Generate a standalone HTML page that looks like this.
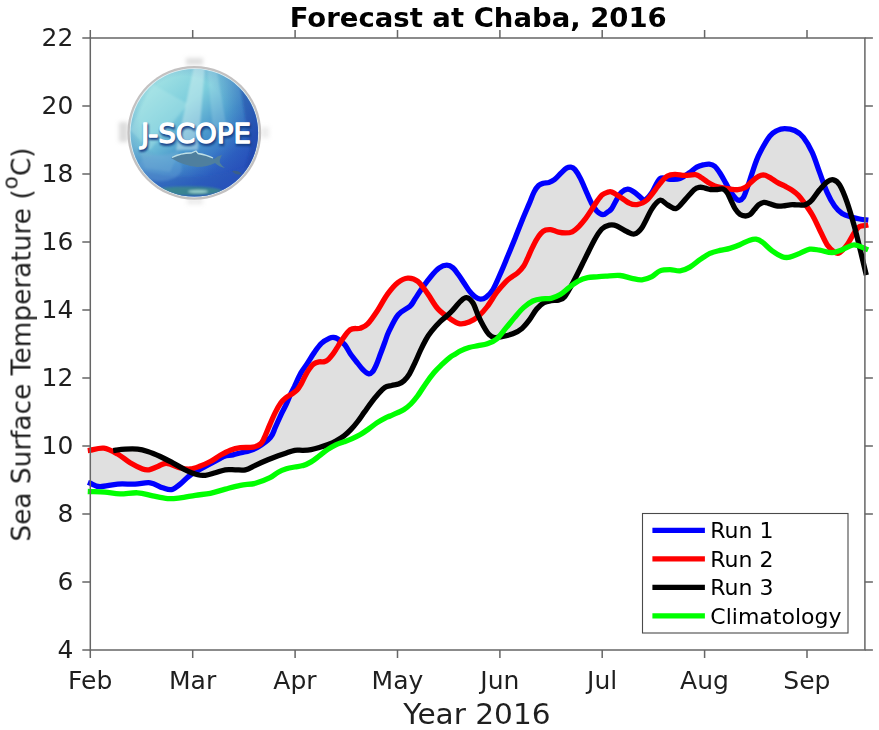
<!DOCTYPE html>
<html lang="en"><head><meta charset="utf-8"><title>Forecast at Chaba, 2016</title>
<style>html,body{margin:0;padding:0;background:#fff}svg{display:block}text{font-family:"DejaVu Sans","Liberation Sans",sans-serif;fill:#1f1f1f}</style>
</head><body>
<svg width="879" height="730" viewBox="0 0 879 730">
<defs>
<linearGradient id="lg" x1="0.18" y1="0.08" x2="0.86" y2="0.9"><stop offset="0" stop-color="#a2e2e4"/><stop offset="0.30" stop-color="#7ccddc"/><stop offset="0.55" stop-color="#4a98cc"/><stop offset="0.8" stop-color="#2f66c4"/><stop offset="1" stop-color="#2a52bc"/></linearGradient>
<radialGradient id="lg2" cx="0.42" cy="0.40" r="0.62"><stop offset="0.55" stop-color="#2448ac" stop-opacity="0"/><stop offset="1" stop-color="#2448b8" stop-opacity="0.55"/></radialGradient>
<filter id="bl" x="-20%" y="-20%" width="140%" height="140%"><feGaussianBlur stdDeviation="1.2"/></filter>
<filter id="bl3" x="-50%" y="-50%" width="200%" height="200%"><feGaussianBlur stdDeviation="2"/></filter>
<filter id="bl2" x="-20%" y="-20%" width="140%" height="140%"><feGaussianBlur stdDeviation="0.7"/></filter>
<clipPath id="lc"><circle cx="194.3" cy="132.8" r="63.8"/></clipPath>
</defs>
<rect width="879" height="730" fill="#fff"/>
<path d="M90.3 450.2L90.8 450.1L91.3 450.0L91.8 449.9L92.3 449.8L92.8 449.7L93.3 449.5L93.8 449.4L94.3 449.3L94.8 449.2L95.3 449.0L95.8 448.9L96.3 448.8L96.8 448.7L97.3 448.6L97.8 448.5L98.3 448.4L98.8 448.4L99.3 448.3L99.8 448.2L100.3 448.2L100.8 448.1L101.3 448.1L101.8 448.1L102.3 448.1L102.8 448.1L103.3 448.2L103.8 448.2L104.3 448.3L104.8 448.4L105.3 448.5L105.8 448.6L106.3 448.7L106.8 448.9L107.3 449.0L107.8 449.2L108.3 449.4L108.8 449.6L109.3 449.8L109.8 450.0L110.3 450.2L110.8 450.4L111.3 450.7L111.8 450.9L112.3 451.2L112.8 451.4L113.3 451.7L113.8 451.9L114.3 452.2L114.8 452.5L115.3 452.7L115.8 450.2L116.3 450.1L116.8 450.1L117.3 450.0L117.8 449.9L118.3 449.9L118.8 449.8L119.3 449.7L119.8 449.7L120.3 449.6L120.8 449.6L121.3 449.5L121.8 449.5L122.3 449.4L122.8 449.4L123.3 449.3L123.8 449.3L124.3 449.2L124.8 449.2L125.3 449.2L125.8 449.2L126.3 449.1L126.8 449.1L127.3 449.1L127.8 449.1L128.3 449.1L128.8 449.1L129.3 449.0L129.8 449.0L130.3 449.0L130.8 449.0L131.3 449.0L131.8 449.0L132.3 449.0L132.8 449.0L133.3 449.0L133.8 449.0L134.3 449.0L134.8 449.0L135.3 449.0L135.8 449.1L136.3 449.1L136.8 449.1L137.3 449.2L137.8 449.2L138.3 449.3L138.8 449.3L139.3 449.4L139.8 449.5L140.3 449.6L140.8 449.7L141.3 449.7L141.8 449.8L142.3 450.0L142.8 450.1L143.3 450.2L143.8 450.3L144.3 450.5L144.8 450.6L145.3 450.8L145.8 450.9L146.3 451.1L146.8 451.2L147.3 451.4L147.8 451.5L148.3 451.7L148.8 451.9L149.3 452.0L149.8 452.2L150.3 452.4L150.8 452.6L151.3 452.8L151.8 453.0L152.3 453.2L152.8 453.4L153.3 453.6L153.8 453.8L154.3 454.0L154.8 454.2L155.3 454.4L155.8 454.6L156.3 454.8L156.8 455.0L157.3 455.2L157.8 455.4L158.3 455.7L158.8 455.9L159.3 456.1L159.8 456.3L160.3 456.5L160.8 456.8L161.3 457.0L161.8 457.2L162.3 457.5L162.8 457.7L163.3 458.0L163.8 458.2L164.3 458.4L164.8 458.7L165.3 458.9L165.8 459.2L166.3 459.4L166.8 459.7L167.3 460.0L167.8 460.2L168.3 460.5L168.8 460.7L169.3 461.0L169.8 461.3L170.3 461.5L170.8 461.8L171.3 462.1L171.8 462.3L172.3 462.6L172.8 462.9L173.3 463.1L173.8 463.4L174.3 463.7L174.8 464.0L175.3 464.2L175.8 464.5L176.3 464.8L176.8 465.1L177.3 465.4L177.8 465.7L178.3 466.0L178.8 466.3L179.3 466.6L179.8 466.9L180.3 467.2L180.8 467.5L181.3 467.7L181.8 468.0L182.3 468.3L182.8 468.4L183.3 468.5L183.8 468.6L184.3 468.7L184.8 468.8L185.3 468.8L185.8 468.9L186.3 469.0L186.8 469.0L187.3 469.0L187.8 469.1L188.3 469.1L188.8 469.1L189.3 469.1L189.8 469.0L190.3 469.0L190.8 468.9L191.3 468.9L191.8 468.8L192.3 468.7L192.8 468.6L193.3 468.4L193.8 468.3L194.3 468.2L194.8 468.0L195.3 467.8L195.8 467.7L196.3 467.5L196.8 467.3L197.3 467.1L197.8 466.9L198.3 466.8L198.8 466.6L199.3 466.4L199.8 466.2L200.3 466.0L200.8 465.8L201.3 465.6L201.8 465.4L202.3 465.2L202.8 465.0L203.3 464.8L203.8 464.6L204.3 464.4L204.8 464.2L205.3 464.0L205.8 463.7L206.3 463.5L206.8 463.3L207.3 463.0L207.8 462.8L208.3 462.5L208.8 462.3L209.3 462.0L209.8 461.8L210.3 461.5L210.8 461.2L211.3 460.9L211.8 460.6L212.3 460.3L212.8 460.0L213.3 459.7L213.8 459.4L214.3 459.1L214.8 458.8L215.3 458.4L215.8 458.1L216.3 457.8L216.8 457.5L217.3 457.1L217.8 456.8L218.3 456.5L218.8 456.2L219.3 455.9L219.8 455.6L220.3 455.3L220.8 455.0L221.3 454.7L221.8 454.5L222.3 454.2L222.8 453.9L223.3 453.6L223.8 453.3L224.3 453.1L224.8 452.8L225.3 452.5L225.8 452.3L226.3 452.0L226.8 451.7L227.3 451.5L227.8 451.3L228.3 451.0L228.8 450.8L229.3 450.6L229.8 450.4L230.3 450.2L230.8 450.0L231.3 449.8L231.8 449.7L232.3 449.5L232.8 449.3L233.3 449.2L233.8 449.0L234.3 448.9L234.8 448.8L235.3 448.6L235.8 448.5L236.3 448.4L236.8 448.3L237.3 448.2L237.8 448.1L238.3 448.0L238.8 447.9L239.3 447.9L239.8 447.8L240.3 447.7L240.8 447.7L241.3 447.6L241.8 447.6L242.3 447.5L242.8 447.5L243.3 447.5L243.8 447.5L244.3 447.5L244.8 447.5L245.3 447.5L245.8 447.5L246.3 447.5L246.8 447.5L247.3 447.5L247.8 447.5L248.3 447.5L248.8 447.5L249.3 447.5L249.8 447.5L250.3 447.5L250.8 447.4L251.3 447.4L251.8 447.4L252.3 447.3L252.8 447.2L253.3 447.1L253.8 447.0L254.3 446.9L254.8 446.7L255.3 446.6L255.8 446.4L256.3 446.2L256.8 446.0L257.3 445.8L257.8 445.6L258.3 445.3L258.8 445.1L259.3 444.7L259.8 444.4L260.3 444.1L260.8 443.7L261.3 443.3L261.8 442.8L262.3 442.0L262.8 441.0L263.3 439.9L263.8 438.9L264.3 437.8L264.8 436.6L265.3 435.5L265.8 434.3L266.3 433.1L266.8 431.9L267.3 430.6L267.8 429.4L268.3 428.2L268.8 427.0L269.3 425.8L269.8 424.7L270.3 423.5L270.8 422.4L271.3 421.2L271.8 420.0L272.3 418.9L272.8 417.7L273.3 416.6L273.8 415.5L274.3 414.4L274.8 413.4L275.3 412.4L275.8 411.4L276.3 410.4L276.8 409.5L277.3 408.6L277.8 407.6L278.3 406.8L278.8 405.9L279.3 405.1L279.8 404.3L280.3 403.6L280.8 402.9L281.3 402.2L281.8 401.6L282.3 401.0L282.8 400.5L283.3 400.0L283.8 399.5L284.3 399.1L284.8 398.7L285.3 398.2L285.8 397.8L286.3 397.4L286.8 397.0L287.3 396.7L287.8 396.4L288.3 396.1L288.8 395.8L289.3 395.5L289.8 395.2L290.3 394.8L290.8 393.7L291.3 392.7L291.8 391.7L292.3 390.8L292.8 389.8L293.3 388.8L293.8 387.8L294.3 386.8L294.8 385.8L295.3 384.7L295.8 383.6L296.3 382.5L296.8 381.4L297.3 380.3L297.8 379.2L298.3 378.1L298.8 377.1L299.3 376.0L299.8 375.0L300.3 374.0L300.8 373.1L301.3 372.2L301.8 371.4L302.3 370.6L302.8 369.9L303.3 369.1L303.8 368.4L304.3 367.7L304.8 367.1L305.3 366.4L305.8 365.7L306.3 364.9L306.8 364.2L307.3 363.4L307.8 362.7L308.3 361.9L308.8 361.1L309.3 360.3L309.8 359.4L310.3 358.6L310.8 357.8L311.3 357.0L311.8 356.2L312.3 355.4L312.8 354.7L313.3 353.9L313.8 353.2L314.3 352.5L314.8 351.7L315.3 351.0L315.8 350.3L316.3 349.6L316.8 348.9L317.3 348.2L317.8 347.5L318.3 346.9L318.8 346.2L319.3 345.6L319.8 345.1L320.3 344.5L320.8 344.0L321.3 343.5L321.8 343.0L322.3 342.6L322.8 342.2L323.3 341.9L323.8 341.5L324.3 341.2L324.8 340.8L325.3 340.5L325.8 340.2L326.3 340.0L326.8 339.7L327.3 339.4L327.8 339.1L328.3 338.9L328.8 338.6L329.3 338.4L329.8 338.2L330.3 337.9L330.8 337.7L331.3 337.6L331.8 337.5L332.3 337.4L332.8 337.4L333.3 337.5L333.8 337.5L334.3 337.6L334.8 337.6L335.3 337.7L335.8 337.9L336.3 338.1L336.8 338.3L337.3 338.6L337.8 338.9L338.3 339.3L338.8 339.6L339.3 340.0L339.8 340.3L340.3 340.7L340.8 341.1L341.3 341.0L341.8 340.3L342.3 339.5L342.8 338.8L343.3 338.0L343.8 337.3L344.3 336.6L344.8 335.8L345.3 335.1L345.8 334.5L346.3 333.8L346.8 333.1L347.3 332.5L347.8 331.9L348.3 331.4L348.8 330.9L349.3 330.4L349.8 330.0L350.3 329.6L350.8 329.4L351.3 329.1L351.8 328.9L352.3 328.8L352.8 328.7L353.3 328.6L353.8 328.5L354.3 328.5L354.8 328.5L355.3 328.5L355.8 328.5L356.3 328.5L356.8 328.5L357.3 328.5L357.8 328.5L358.3 328.5L358.8 328.5L359.3 328.4L359.8 328.3L360.3 328.2L360.8 328.0L361.3 327.8L361.8 327.7L362.3 327.5L362.8 327.3L363.3 327.1L363.8 326.9L364.3 326.6L364.8 326.3L365.3 326.0L365.8 325.6L366.3 325.2L366.8 324.8L367.3 324.3L367.8 323.8L368.3 323.3L368.8 322.7L369.3 322.1L369.8 321.5L370.3 320.8L370.8 320.2L371.3 319.5L371.8 318.8L372.3 318.1L372.8 317.4L373.3 316.7L373.8 316.0L374.3 315.3L374.8 314.5L375.3 313.8L375.8 313.0L376.3 312.3L376.8 311.6L377.3 310.8L377.8 310.0L378.3 309.3L378.8 308.5L379.3 307.7L379.8 306.9L380.3 306.0L380.8 305.2L381.3 304.3L381.8 303.4L382.3 302.6L382.8 301.7L383.3 300.9L383.8 300.0L384.3 299.2L384.8 298.3L385.3 297.5L385.8 296.7L386.3 295.9L386.8 295.2L387.3 294.5L387.8 293.8L388.3 293.1L388.8 292.4L389.3 291.8L389.8 291.1L390.3 290.5L390.8 289.8L391.3 289.2L391.8 288.6L392.3 288.0L392.8 287.5L393.3 286.9L393.8 286.4L394.3 285.8L394.8 285.3L395.3 284.8L395.8 284.3L396.3 283.9L396.8 283.4L397.3 283.0L397.8 282.6L398.3 282.2L398.8 281.8L399.3 281.5L399.8 281.2L400.3 280.8L400.8 280.5L401.3 280.2L401.8 279.9L402.3 279.7L402.8 279.4L403.3 279.2L403.8 279.0L404.3 278.8L404.8 278.7L405.3 278.5L405.8 278.4L406.3 278.3L406.8 278.2L407.3 278.2L407.8 278.1L408.3 278.1L408.8 278.1L409.3 278.1L409.8 278.1L410.3 278.1L410.8 278.2L411.3 278.3L411.8 278.4L412.3 278.5L412.8 278.6L413.3 278.8L413.8 279.0L414.3 279.2L414.8 279.4L415.3 279.7L415.8 279.9L416.3 280.2L416.8 280.6L417.3 280.9L417.8 281.3L418.3 281.7L418.8 282.2L419.3 282.7L419.8 283.2L420.3 283.7L420.8 284.3L421.3 284.9L421.8 285.6L422.3 286.2L422.8 286.9L423.3 286.5L423.8 285.8L424.3 285.1L424.8 284.4L425.3 283.7L425.8 283.0L426.3 282.3L426.8 281.7L427.3 281.0L427.8 280.3L428.3 279.7L428.8 279.0L429.3 278.4L429.8 277.8L430.3 277.2L430.8 276.6L431.3 276.0L431.8 275.4L432.3 274.8L432.8 274.2L433.3 273.7L433.8 273.1L434.3 272.6L434.8 272.0L435.3 271.5L435.8 271.0L436.3 270.5L436.8 270.0L437.3 269.5L437.8 269.1L438.3 268.7L438.8 268.3L439.3 267.9L439.8 267.6L440.3 267.3L440.8 267.0L441.3 266.7L441.8 266.4L442.3 266.2L442.8 266.0L443.3 265.8L443.8 265.7L444.3 265.5L444.8 265.4L445.3 265.3L445.8 265.3L446.3 265.2L446.8 265.2L447.3 265.2L447.8 265.3L448.3 265.4L448.8 265.5L449.3 265.7L449.8 265.9L450.3 266.1L450.8 266.4L451.3 266.7L451.8 267.0L452.3 267.4L452.8 267.7L453.3 268.2L453.8 268.6L454.3 269.2L454.8 269.7L455.3 270.4L455.8 271.0L456.3 271.7L456.8 272.4L457.3 273.1L457.8 273.8L458.3 274.5L458.8 275.2L459.3 275.9L459.8 276.6L460.3 277.4L460.8 278.1L461.3 278.9L461.8 279.7L462.3 280.4L462.8 281.2L463.3 281.9L463.8 282.7L464.3 283.5L464.8 284.2L465.3 285.0L465.8 285.8L466.3 286.6L466.8 287.3L467.3 288.1L467.8 288.9L468.3 289.6L468.8 290.3L469.3 290.9L469.8 291.6L470.3 292.2L470.8 292.8L471.3 293.3L471.8 293.9L472.3 294.4L472.8 294.9L473.3 295.4L473.8 295.8L474.3 296.2L474.8 296.6L475.3 297.0L475.8 297.3L476.3 297.7L476.8 298.0L477.3 298.2L477.8 298.5L478.3 298.7L478.8 298.9L479.3 299.0L479.8 299.1L480.3 299.2L480.8 299.2L481.3 299.2L481.8 299.2L482.3 299.1L482.8 299.0L483.3 298.9L483.8 298.7L484.3 298.4L484.8 298.2L485.3 297.8L485.8 297.5L486.3 297.1L486.8 296.7L487.3 296.3L487.8 295.9L488.3 295.4L488.8 295.0L489.3 294.5L489.8 293.9L490.3 293.3L490.8 292.7L491.3 292.1L491.8 291.4L492.3 290.6L492.8 289.8L493.3 289.0L493.8 288.1L494.3 287.1L494.8 286.1L495.3 285.1L495.8 284.0L496.3 282.9L496.8 281.8L497.3 280.7L497.8 279.6L498.3 278.4L498.8 277.3L499.3 276.1L499.8 275.0L500.3 273.8L500.8 272.6L501.3 271.5L501.8 270.3L502.3 269.2L502.8 268.0L503.3 266.9L503.8 265.7L504.3 264.5L504.8 263.3L505.3 262.1L505.8 260.8L506.3 259.6L506.8 258.4L507.3 257.2L507.8 256.0L508.3 254.7L508.8 253.5L509.3 252.3L509.8 251.1L510.3 249.9L510.8 248.7L511.3 247.5L511.8 246.3L512.3 245.1L512.8 243.9L513.3 242.6L513.8 241.4L514.3 240.2L514.8 238.9L515.3 237.7L515.8 236.5L516.3 235.2L516.8 233.9L517.3 232.6L517.8 231.4L518.3 230.1L518.8 228.8L519.3 227.5L519.8 226.3L520.3 225.0L520.8 223.7L521.3 222.5L521.8 221.2L522.3 220.0L522.8 218.8L523.3 217.6L523.8 216.4L524.3 215.2L524.8 214.0L525.3 212.8L525.8 211.7L526.3 210.5L526.8 209.3L527.3 208.2L527.8 207.0L528.3 205.8L528.8 204.6L529.3 203.4L529.8 202.2L530.3 200.9L530.8 199.7L531.3 198.4L531.8 197.1L532.3 195.9L532.8 194.7L533.3 193.6L533.8 192.5L534.3 191.5L534.8 190.6L535.3 189.8L535.8 188.9L536.3 188.2L536.8 187.5L537.3 186.9L537.8 186.3L538.3 185.8L538.8 185.3L539.3 184.9L539.8 184.6L540.3 184.3L540.8 184.0L541.3 183.8L541.8 183.7L542.3 183.5L542.8 183.4L543.3 183.2L543.8 183.1L544.3 183.0L544.8 183.0L545.3 182.9L545.8 182.9L546.3 182.9L546.8 182.8L547.3 182.8L547.8 182.7L548.3 182.7L548.8 182.5L549.3 182.4L549.8 182.2L550.3 182.0L550.8 181.8L551.3 181.6L551.8 181.4L552.3 181.1L552.8 180.8L553.3 180.5L553.8 180.1L554.3 179.8L554.8 179.4L555.3 178.9L555.8 178.5L556.3 178.0L556.8 177.5L557.3 177.0L557.8 176.4L558.3 175.9L558.8 175.4L559.3 174.8L559.8 174.3L560.3 173.8L560.8 173.3L561.3 172.8L561.8 172.3L562.3 171.9L562.8 171.4L563.3 170.9L563.8 170.4L564.3 170.0L564.8 169.5L565.3 169.1L565.8 168.7L566.3 168.4L566.8 168.0L567.3 167.8L567.8 167.5L568.3 167.3L568.8 167.2L569.3 167.1L569.8 167.0L570.3 167.0L570.8 167.1L571.3 167.2L571.8 167.3L572.3 167.5L572.8 167.7L573.3 168.0L573.8 168.4L574.3 168.9L574.8 169.4L575.3 170.0L575.8 170.7L576.3 171.4L576.8 172.1L577.3 172.9L577.8 173.7L578.3 174.6L578.8 175.4L579.3 176.3L579.8 177.3L580.3 178.2L580.8 179.2L581.3 180.2L581.8 181.3L582.3 182.4L582.8 183.5L583.3 184.7L583.8 185.9L584.3 187.0L584.8 188.2L585.3 189.3L585.8 190.5L586.3 191.6L586.8 192.8L587.3 193.9L587.8 195.1L588.3 196.3L588.8 197.4L589.3 198.6L589.8 199.7L590.3 200.8L590.8 201.8L591.3 202.8L591.8 203.7L592.3 204.7L592.8 205.6L593.3 206.4L593.8 206.1L594.3 205.3L594.8 204.6L595.3 203.8L595.8 203.0L596.3 202.3L596.8 201.6L597.3 200.9L597.8 200.2L598.3 199.5L598.8 198.8L599.3 198.2L599.8 197.5L600.3 196.9L600.8 196.3L601.3 195.8L601.8 195.3L602.3 194.8L602.8 194.4L603.3 194.0L603.8 193.7L604.3 193.4L604.8 193.2L605.3 193.0L605.8 192.8L606.3 192.6L606.8 192.4L607.3 192.3L607.8 192.1L608.3 191.9L608.8 191.8L609.3 191.6L609.8 191.5L610.3 191.5L610.8 191.6L611.3 191.7L611.8 191.9L612.3 192.1L612.8 192.3L613.3 192.6L613.8 192.9L614.3 193.2L614.8 193.5L615.3 193.8L615.8 194.1L616.3 194.4L616.8 194.8L617.3 195.1L617.8 195.4L618.3 195.8L618.8 195.7L619.3 194.9L619.8 194.2L620.3 193.5L620.8 192.9L621.3 192.4L621.8 191.9L622.3 191.5L622.8 191.1L623.3 190.8L623.8 190.5L624.3 190.2L624.8 189.9L625.3 189.7L625.8 189.5L626.3 189.3L626.8 189.2L627.3 189.1L627.8 189.1L628.3 189.1L628.8 189.2L629.3 189.3L629.8 189.5L630.3 189.7L630.8 190.0L631.3 190.2L631.8 190.5L632.3 190.8L632.8 191.2L633.3 191.5L633.8 191.8L634.3 192.1L634.8 192.5L635.3 192.9L635.8 193.3L636.3 193.7L636.8 194.1L637.3 194.5L637.8 195.0L638.3 195.4L638.8 195.9L639.3 196.3L639.8 196.7L640.3 197.1L640.8 197.5L641.3 198.0L641.8 198.6L642.3 199.1L642.8 199.6L643.3 200.0L643.8 200.2L644.3 200.2L644.8 200.1L645.3 199.9L645.8 199.6L646.3 199.2L646.8 198.8L647.3 198.3L647.8 197.8L648.3 197.2L648.8 196.7L649.3 196.1L649.8 195.4L650.3 194.8L650.8 194.1L651.3 193.4L651.8 192.7L652.3 192.0L652.8 191.1L653.3 190.2L653.8 189.2L654.3 188.2L654.8 187.1L655.3 186.1L655.8 185.0L656.3 184.0L656.8 183.0L657.3 182.1L657.8 181.2L658.3 180.5L658.8 179.8L659.3 179.2L659.8 178.8L660.3 178.4L660.8 178.1L661.3 178.0L661.8 177.8L662.3 177.8L662.8 177.8L663.3 177.8L663.8 177.9L664.3 178.0L664.8 178.1L665.3 177.8L665.8 177.3L666.3 176.9L666.8 176.6L667.3 176.2L667.8 175.9L668.3 175.7L668.8 175.4L669.3 175.2L669.8 175.0L670.3 174.9L670.8 174.8L671.3 174.7L671.8 174.6L672.3 174.6L672.8 174.5L673.3 174.5L673.8 174.5L674.3 174.4L674.8 174.4L675.3 174.4L675.8 174.4L676.3 174.4L676.8 174.5L677.3 174.5L677.8 174.6L678.3 174.6L678.8 174.7L679.3 174.8L679.8 174.8L680.3 174.9L680.8 175.0L681.3 175.1L681.8 175.1L682.3 175.2L682.8 175.3L683.3 175.3L683.8 175.3L684.3 175.4L684.8 175.4L685.3 175.4L685.8 175.3L686.3 175.0L686.8 174.6L687.3 174.3L687.8 173.9L688.3 173.5L688.8 173.2L689.3 172.8L689.8 172.5L690.3 172.1L690.8 171.8L691.3 171.4L691.8 171.0L692.3 170.6L692.8 170.1L693.3 169.7L693.8 169.3L694.3 168.9L694.8 168.5L695.3 168.1L695.8 167.7L696.3 167.4L696.8 167.1L697.3 166.8L697.8 166.6L698.3 166.4L698.8 166.2L699.3 166.0L699.8 165.8L700.3 165.7L700.8 165.5L701.3 165.4L701.8 165.3L702.3 165.1L702.8 165.0L703.3 164.9L703.8 164.8L704.3 164.7L704.8 164.5L705.3 164.4L705.8 164.3L706.3 164.2L706.8 164.1L707.3 164.1L707.8 164.0L708.3 164.0L708.8 164.1L709.3 164.1L709.8 164.2L710.3 164.3L710.8 164.4L711.3 164.5L711.8 164.6L712.3 164.8L712.8 165.0L713.3 165.2L713.8 165.5L714.3 165.9L714.8 166.3L715.3 166.8L715.8 167.3L716.3 167.9L716.8 168.5L717.3 169.1L717.8 169.8L718.3 170.6L718.8 171.3L719.3 172.1L719.8 172.8L720.3 173.6L720.8 174.4L721.3 175.2L721.8 176.1L722.3 177.0L722.8 177.9L723.3 178.8L723.8 179.7L724.3 180.6L724.8 181.5L725.3 182.4L725.8 183.3L726.3 184.1L726.8 185.0L727.3 185.9L727.8 186.8L728.3 187.7L728.8 188.6L729.3 189.0L729.8 189.0L730.3 189.1L730.8 189.1L731.3 189.2L731.8 189.3L732.3 189.4L732.8 189.4L733.3 189.5L733.8 189.5L734.3 189.6L734.8 189.6L735.3 189.7L735.8 189.7L736.3 189.7L736.8 189.7L737.3 189.7L737.8 189.7L738.3 189.7L738.8 189.6L739.3 189.5L739.8 189.4L740.3 189.3L740.8 189.2L741.3 189.1L741.8 189.0L742.3 188.8L742.8 188.6L743.3 188.4L743.8 188.2L744.3 188.0L744.8 187.7L745.3 187.4L745.8 187.1L746.3 186.7L746.8 186.3L747.3 185.8L747.8 185.3L748.3 184.7L748.8 183.2L749.3 181.7L749.8 180.2L750.3 178.7L750.8 177.1L751.3 175.6L751.8 174.1L752.3 172.6L752.8 171.1L753.3 169.5L753.8 168.0L754.3 166.5L754.8 165.1L755.3 163.7L755.8 162.3L756.3 161.0L756.8 159.6L757.3 158.3L757.8 157.0L758.3 155.9L758.8 154.8L759.3 153.8L759.8 152.9L760.3 152.0L760.8 151.0L761.3 150.1L761.8 149.2L762.3 148.3L762.8 147.4L763.3 146.5L763.8 145.7L764.3 144.8L764.8 143.9L765.3 143.1L765.8 142.3L766.3 141.4L766.8 140.6L767.3 139.8L767.8 139.1L768.3 138.3L768.8 137.6L769.3 136.9L769.8 136.2L770.3 135.6L770.8 135.0L771.3 134.5L771.8 133.9L772.3 133.5L772.8 133.1L773.3 132.7L773.8 132.3L774.3 132.0L774.8 131.7L775.3 131.5L775.8 131.2L776.3 130.9L776.8 130.7L777.3 130.5L777.8 130.2L778.3 130.0L778.8 129.8L779.3 129.6L779.8 129.4L780.3 129.3L780.8 129.1L781.3 129.0L781.8 128.9L782.3 128.9L782.8 128.8L783.3 128.7L783.8 128.7L784.3 128.7L784.8 128.7L785.3 128.7L785.8 128.7L786.3 128.7L786.8 128.8L787.3 128.8L787.8 128.8L788.3 128.9L788.8 128.9L789.3 129.0L789.8 129.1L790.3 129.2L790.8 129.3L791.3 129.4L791.8 129.5L792.3 129.6L792.8 129.8L793.3 129.9L793.8 130.1L794.3 130.3L794.8 130.5L795.3 130.8L795.8 131.0L796.3 131.3L796.8 131.6L797.3 131.9L797.8 132.2L798.3 132.5L798.8 132.9L799.3 133.3L799.8 133.7L800.3 134.1L800.8 134.6L801.3 135.0L801.8 135.6L802.3 136.1L802.8 136.7L803.3 137.3L803.8 137.9L804.3 138.6L804.8 139.3L805.3 140.0L805.8 140.7L806.3 141.5L806.8 142.3L807.3 143.1L807.8 143.9L808.3 144.8L808.8 145.7L809.3 146.6L809.8 147.5L810.3 148.5L810.8 149.5L811.3 150.5L811.8 151.6L812.3 152.6L812.8 153.7L813.3 154.9L813.8 156.2L814.3 157.5L814.8 158.8L815.3 160.2L815.8 161.6L816.3 163.0L816.8 164.5L817.3 165.9L817.8 167.4L818.3 168.8L818.8 170.2L819.3 171.6L819.8 172.9L820.3 174.3L820.8 175.7L821.3 177.1L821.8 178.5L822.3 179.8L822.8 181.2L823.3 182.6L823.8 184.0L824.3 184.4L824.8 183.8L825.3 183.3L825.8 182.9L826.3 182.4L826.8 182.0L827.3 181.7L827.8 181.3L828.3 181.0L828.8 180.7L829.3 180.4L829.8 180.2L830.3 180.0L830.8 179.8L831.3 179.7L831.8 179.7L832.3 179.7L832.8 179.7L833.3 179.8L833.8 179.9L834.3 180.0L834.8 180.2L835.3 180.4L835.8 180.7L836.3 181.0L836.8 181.4L837.3 181.8L837.8 182.3L838.3 182.9L838.8 183.6L839.3 184.3L839.8 185.1L840.3 186.0L840.8 187.0L841.3 188.0L841.8 189.0L842.3 190.1L842.8 191.2L843.3 192.4L843.8 193.6L844.3 194.8L844.8 196.1L845.3 197.4L845.8 198.7L846.3 200.1L846.8 201.5L847.3 202.9L847.8 204.3L848.3 205.8L848.8 207.4L849.3 208.9L849.8 210.5L850.3 212.2L850.8 213.8L851.3 215.5L851.8 217.2L852.3 217.4L852.8 217.5L853.3 217.7L853.8 217.8L854.3 217.9L854.8 218.0L855.3 218.2L855.8 218.3L856.3 218.4L856.8 218.5L857.3 218.6L857.8 218.7L858.3 218.8L858.8 218.9L859.3 218.9L859.8 219.0L860.3 219.1L860.8 219.2L861.3 219.3L861.8 219.3L862.3 219.4L862.8 219.5L863.3 219.5L863.8 219.6L864.3 219.6L864.8 219.7L865.3 219.8L865.3 270.9L864.8 268.8L864.3 266.7L863.8 264.6L863.3 262.6L862.8 260.5L862.3 258.4L861.8 256.3L861.3 254.3L860.8 252.2L860.3 250.1L859.8 248.1L859.3 246.0L858.8 243.9L858.3 241.8L857.8 239.7L857.3 237.7L856.8 235.7L856.3 233.7L855.8 231.7L855.3 231.2L854.8 231.9L854.3 232.7L853.8 233.4L853.3 234.3L852.8 235.1L852.3 236.0L851.8 236.9L851.3 237.8L850.8 238.7L850.3 239.6L849.8 240.4L849.3 241.3L848.8 242.1L848.3 242.9L847.8 243.7L847.3 244.4L846.8 245.1L846.3 245.8L845.8 246.4L845.3 247.0L844.8 247.7L844.3 248.3L843.8 248.8L843.3 249.4L842.8 249.9L842.3 250.4L841.8 250.9L841.3 251.4L840.8 251.8L840.3 252.2L839.8 252.6L839.3 252.9L838.8 253.1L838.3 253.3L837.8 253.4L837.3 253.4L836.8 253.4L836.3 253.2L835.8 252.9L835.3 252.6L834.8 252.3L834.3 252.0L833.8 251.7L833.3 251.3L832.8 250.9L832.3 250.5L831.8 250.1L831.3 249.6L830.8 249.2L830.3 248.7L829.8 248.1L829.3 247.6L828.8 247.0L828.3 246.4L827.8 245.7L827.3 245.0L826.8 244.2L826.3 243.4L825.8 242.5L825.3 241.6L824.8 240.6L824.3 239.6L823.8 238.6L823.3 237.6L822.8 236.5L822.3 235.4L821.8 234.3L821.3 233.3L820.8 232.2L820.3 231.1L819.8 230.1L819.3 229.1L818.8 228.1L818.3 227.0L817.8 226.0L817.3 224.9L816.8 223.9L816.3 222.8L815.8 221.8L815.3 220.7L814.8 219.7L814.3 218.7L813.8 217.7L813.3 216.8L812.8 215.9L812.3 215.0L811.8 214.1L811.3 213.3L810.8 212.5L810.3 211.7L809.8 210.9L809.3 210.1L808.8 209.4L808.3 208.6L807.8 207.9L807.3 207.2L806.8 206.5L806.3 205.7L805.8 205.0L805.3 204.7L804.8 204.9L804.3 205.0L803.8 205.1L803.3 205.1L802.8 205.2L802.3 205.2L801.8 205.1L801.3 205.1L800.8 205.1L800.3 205.0L799.8 205.0L799.3 205.0L798.8 204.9L798.3 204.9L797.8 204.8L797.3 204.8L796.8 204.8L796.3 204.8L795.8 204.8L795.3 204.8L794.8 204.7L794.3 204.7L793.8 204.7L793.3 204.7L792.8 204.7L792.3 204.7L791.8 204.7L791.3 204.7L790.8 204.7L790.3 204.8L789.8 204.8L789.3 204.9L788.8 204.9L788.3 205.0L787.8 205.1L787.3 205.2L786.8 205.3L786.3 205.4L785.8 205.5L785.3 205.6L784.8 205.7L784.3 205.8L783.8 205.8L783.3 205.9L782.8 205.9L782.3 206.0L781.8 206.0L781.3 206.0L780.8 206.1L780.3 206.1L779.8 206.1L779.3 206.1L778.8 206.1L778.3 206.1L777.8 206.1L777.3 206.0L776.8 206.0L776.3 205.9L775.8 205.8L775.3 205.7L774.8 205.6L774.3 205.4L773.8 205.2L773.3 205.1L772.8 204.9L772.3 204.7L771.8 204.5L771.3 204.3L770.8 204.1L770.3 204.0L769.8 203.8L769.3 203.6L768.8 203.5L768.3 203.3L767.8 203.1L767.3 202.9L766.8 202.8L766.3 202.6L765.8 202.5L765.3 202.4L764.8 202.3L764.3 202.3L763.8 202.3L763.3 202.4L762.8 202.5L762.3 202.7L761.8 202.9L761.3 203.1L760.8 203.3L760.3 203.6L759.8 203.9L759.3 204.2L758.8 204.6L758.3 205.0L757.8 205.4L757.3 205.9L756.8 206.5L756.3 207.1L755.8 207.8L755.3 208.5L754.8 209.1L754.3 209.7L753.8 210.3L753.3 211.0L752.8 211.7L752.3 212.3L751.8 212.9L751.3 213.5L750.8 214.0L750.3 214.4L749.8 214.7L749.3 215.0L748.8 215.3L748.3 215.5L747.8 215.7L747.3 215.8L746.8 215.9L746.3 216.0L745.8 216.0L745.3 216.0L744.8 216.0L744.3 215.9L743.8 215.9L743.3 215.8L742.8 215.7L742.3 215.5L741.8 215.3L741.3 215.1L740.8 214.9L740.3 214.6L739.8 214.3L739.3 213.9L738.8 213.4L738.3 212.9L737.8 212.4L737.3 211.8L736.8 211.2L736.3 210.5L735.8 209.8L735.3 209.1L734.8 208.3L734.3 207.4L733.8 206.4L733.3 205.4L732.8 204.3L732.3 203.2L731.8 202.2L731.3 201.1L730.8 200.1L730.3 199.0L729.8 197.9L729.3 196.8L728.8 195.8L728.3 194.8L727.8 193.8L727.3 193.0L726.8 192.2L726.3 191.6L725.8 191.0L725.3 190.4L724.8 190.0L724.3 189.7L723.8 189.4L723.3 189.1L722.8 189.0L722.3 188.9L721.8 188.9L721.3 188.9L720.8 188.9L720.3 189.0L719.8 189.1L719.3 189.2L718.8 189.3L718.3 189.4L717.8 189.5L717.3 189.5L716.8 189.5L716.3 189.5L715.8 189.6L715.3 189.6L714.8 189.6L714.3 189.6L713.8 189.6L713.3 189.6L712.8 189.6L712.3 189.6L711.8 189.6L711.3 189.6L710.8 189.5L710.3 189.5L709.8 189.4L709.3 189.3L708.8 189.2L708.3 189.0L707.8 188.9L707.3 188.7L706.8 188.6L706.3 188.4L705.8 188.3L705.3 188.1L704.8 188.0L704.3 187.9L703.8 187.8L703.3 187.7L702.8 187.6L702.3 187.5L701.8 187.4L701.3 187.3L700.8 187.3L700.3 187.2L699.8 187.3L699.3 187.3L698.8 187.4L698.3 187.5L697.8 187.6L697.3 187.7L696.8 187.9L696.3 188.2L695.8 188.4L695.3 188.8L694.8 189.1L694.3 189.5L693.8 190.0L693.3 190.4L692.8 190.9L692.3 191.5L691.8 192.0L691.3 192.5L690.8 193.1L690.3 193.7L689.8 194.2L689.3 194.8L688.8 195.4L688.3 196.0L687.8 196.6L687.3 197.1L686.8 197.7L686.3 198.3L685.8 198.8L685.3 199.4L684.8 199.9L684.3 200.5L683.8 201.0L683.3 201.6L682.8 202.2L682.3 202.8L681.8 203.5L681.3 204.1L680.8 204.7L680.3 205.3L679.8 205.8L679.3 206.3L678.8 206.8L678.3 207.3L677.8 207.7L677.3 208.0L676.8 208.3L676.3 208.5L675.8 208.6L675.3 208.6L674.8 208.6L674.3 208.5L673.8 208.4L673.3 208.2L672.8 208.0L672.3 207.8L671.8 207.5L671.3 207.2L670.8 206.9L670.3 206.5L669.8 206.2L669.3 205.9L668.8 205.6L668.3 205.2L667.8 205.0L667.3 204.7L666.8 204.4L666.3 204.0L665.8 203.6L665.3 203.2L664.8 202.8L664.3 202.3L663.8 201.9L663.3 201.4L662.8 201.1L662.3 200.7L661.8 200.5L661.3 200.3L660.8 200.2L660.3 200.3L659.8 200.4L659.3 200.6L658.8 200.8L658.3 201.1L657.8 201.5L657.3 201.9L656.8 202.4L656.3 202.9L655.8 203.5L655.3 204.1L654.8 204.7L654.3 205.4L653.8 206.1L653.3 206.8L652.8 207.6L652.3 208.3L651.8 209.1L651.3 209.9L650.8 210.7L650.3 211.6L649.8 212.6L649.3 213.5L648.8 214.5L648.3 215.5L647.8 216.5L647.3 217.6L646.8 218.6L646.3 219.6L645.8 220.6L645.3 221.6L644.8 222.6L644.3 223.6L643.8 224.5L643.3 225.4L642.8 226.3L642.3 227.1L641.8 227.8L641.3 228.5L640.8 229.2L640.3 229.8L639.8 230.4L639.3 230.9L638.8 231.4L638.3 231.9L637.8 232.3L637.3 232.7L636.8 233.0L636.3 233.2L635.8 233.5L635.3 233.7L634.8 233.9L634.3 234.0L633.8 234.1L633.3 234.1L632.8 234.1L632.3 234.0L631.8 233.9L631.3 233.7L630.8 233.5L630.3 233.3L629.8 233.1L629.3 232.8L628.8 232.5L628.3 232.3L627.8 232.0L627.3 231.7L626.8 231.5L626.3 231.3L625.8 231.0L625.3 230.7L624.8 230.4L624.3 230.1L623.8 229.8L623.3 229.5L622.8 229.2L622.3 228.9L621.8 228.6L621.3 228.3L620.8 228.0L620.3 227.7L619.8 227.4L619.3 227.1L618.8 226.8L618.3 226.6L617.8 226.3L617.3 226.1L616.8 225.9L616.3 225.7L615.8 225.6L615.3 225.4L614.8 225.3L614.3 225.2L613.8 225.1L613.3 225.0L612.8 225.0L612.3 224.9L611.8 224.9L611.3 224.9L610.8 225.0L610.3 225.0L609.8 225.1L609.3 225.2L608.8 225.3L608.3 225.4L607.8 225.6L607.3 225.7L606.8 225.9L606.3 226.0L605.8 226.2L605.3 226.5L604.8 226.7L604.3 227.0L603.8 227.3L603.3 227.7L602.8 228.1L602.3 228.5L601.8 229.0L601.3 229.5L600.8 230.1L600.3 230.7L599.8 231.3L599.3 232.0L598.8 232.7L598.3 233.5L597.8 234.2L597.3 235.0L596.8 235.9L596.3 236.7L595.8 237.6L595.3 238.4L594.8 239.3L594.3 240.2L593.8 241.1L593.3 242.0L592.8 243.0L592.3 243.9L591.8 244.9L591.3 245.9L590.8 246.9L590.3 247.9L589.8 248.9L589.3 249.9L588.8 250.9L588.3 252.0L587.8 253.0L587.3 254.0L586.8 255.0L586.3 256.1L585.8 257.1L585.3 258.1L584.8 259.1L584.3 260.1L583.8 261.1L583.3 262.1L582.8 263.1L582.3 264.1L581.8 265.1L581.3 266.2L580.8 267.2L580.3 268.2L579.8 269.2L579.3 270.3L578.8 271.3L578.3 272.3L577.8 273.3L577.3 274.3L576.8 275.3L576.3 276.3L575.8 277.2L575.3 278.2L574.8 279.2L574.3 280.1L573.8 281.0L573.3 282.0L572.8 282.9L572.3 283.9L571.8 284.8L571.3 285.7L570.8 286.7L570.3 287.6L569.8 288.5L569.3 289.4L568.8 290.3L568.3 291.1L567.8 292.0L567.3 292.8L566.8 293.6L566.3 294.4L565.8 295.1L565.3 295.8L564.8 296.5L564.3 297.1L563.8 297.6L563.3 298.1L562.8 298.5L562.3 298.8L561.8 299.1L561.3 299.3L560.8 299.5L560.3 299.6L559.8 299.7L559.3 299.9L558.8 300.0L558.3 300.1L557.8 300.3L557.3 300.3L556.8 300.4L556.3 300.4L555.8 300.5L555.3 300.5L554.8 300.5L554.3 300.5L553.8 300.5L553.3 300.5L552.8 300.5L552.3 300.6L551.8 300.6L551.3 300.7L550.8 300.8L550.3 300.8L549.8 300.9L549.3 301.0L548.8 301.1L548.3 301.2L547.8 301.3L547.3 301.4L546.8 301.6L546.3 301.7L545.8 301.9L545.3 302.1L544.8 302.3L544.3 302.5L543.8 302.8L543.3 303.1L542.8 303.4L542.3 303.8L541.8 304.1L541.3 304.5L540.8 304.9L540.3 305.3L539.8 305.8L539.3 306.2L538.8 306.7L538.3 307.2L537.8 307.7L537.3 308.3L536.8 308.9L536.3 309.5L535.8 310.1L535.3 310.8L534.8 311.5L534.3 312.3L533.8 313.0L533.3 313.8L532.8 314.7L532.3 315.5L531.8 316.3L531.3 317.1L530.8 317.9L530.3 318.6L529.8 319.4L529.3 320.1L528.8 320.7L528.3 321.4L527.8 322.0L527.3 322.7L526.8 323.3L526.3 323.9L525.8 324.6L525.3 325.1L524.8 325.7L524.3 326.2L523.8 326.7L523.3 327.2L522.8 327.7L522.3 328.1L521.8 328.6L521.3 329.0L520.8 329.3L520.3 329.7L519.8 330.1L519.3 330.4L518.8 330.7L518.3 331.0L517.8 331.3L517.3 331.6L516.8 331.9L516.3 332.2L515.8 332.4L515.3 332.7L514.8 332.9L514.3 333.2L513.8 333.4L513.3 333.6L512.8 333.8L512.3 334.0L511.8 334.2L511.3 334.3L510.8 334.5L510.3 334.7L509.8 334.8L509.3 335.0L508.8 335.1L508.3 335.2L507.8 335.3L507.3 335.5L506.8 335.6L506.3 335.7L505.8 335.8L505.3 335.9L504.8 336.0L504.3 336.1L503.8 336.2L503.3 336.3L502.8 336.4L502.3 336.5L501.8 336.6L501.3 336.7L500.8 336.8L500.3 336.9L499.8 337.0L499.3 337.1L498.8 337.2L498.3 337.3L497.8 337.4L497.3 337.5L496.8 337.5L496.3 337.6L495.8 337.6L495.3 337.6L494.8 337.5L494.3 337.4L493.8 337.4L493.3 337.2L492.8 337.1L492.3 336.9L491.8 336.7L491.3 336.4L490.8 336.1L490.3 335.7L489.8 335.3L489.3 334.8L488.8 334.3L488.3 333.7L487.8 333.0L487.3 332.4L486.8 331.6L486.3 330.9L485.8 330.1L485.3 329.2L484.8 328.4L484.3 327.5L483.8 326.7L483.3 325.8L482.8 324.9L482.3 324.0L481.8 323.0L481.3 322.0L480.8 321.0L480.3 320.0L479.8 319.0L479.3 318.0L478.8 316.9L478.3 316.4L477.8 316.8L477.3 317.2L476.8 317.6L476.3 318.0L475.8 318.4L475.3 318.7L474.8 319.0L474.3 319.4L473.8 319.7L473.3 320.0L472.8 320.2L472.3 320.5L471.8 320.8L471.3 321.0L470.8 321.3L470.3 321.5L469.8 321.7L469.3 321.9L468.8 322.1L468.3 322.3L467.8 322.5L467.3 322.7L466.8 322.9L466.3 323.0L465.8 323.2L465.3 323.4L464.8 323.5L464.3 323.6L463.8 323.7L463.3 323.8L462.8 323.9L462.3 323.9L461.8 323.9L461.3 323.9L460.8 323.9L460.3 323.8L459.8 323.8L459.3 323.7L458.8 323.5L458.3 323.4L457.8 323.2L457.3 323.0L456.8 322.8L456.3 322.5L455.8 322.3L455.3 322.0L454.8 321.7L454.3 321.4L453.8 321.1L453.3 320.8L452.8 320.5L452.3 320.2L451.8 319.8L451.3 319.5L450.8 319.2L450.3 318.8L449.8 318.5L449.3 318.2L448.8 317.8L448.3 317.5L447.8 317.1L447.3 316.8L446.8 316.4L446.3 316.3L445.8 316.8L445.3 317.2L444.8 317.6L444.3 318.0L443.8 318.4L443.3 318.8L442.8 319.2L442.3 319.7L441.8 320.1L441.3 320.5L440.8 321.0L440.3 321.5L439.8 322.0L439.3 322.5L438.8 323.0L438.3 323.5L437.8 324.1L437.3 324.6L436.8 325.1L436.3 325.7L435.8 326.2L435.3 326.8L434.8 327.4L434.3 327.9L433.8 328.5L433.3 329.1L432.8 329.7L432.3 330.3L431.8 330.9L431.3 331.5L430.8 332.2L430.3 332.8L429.8 333.5L429.3 334.2L428.8 334.9L428.3 335.6L427.8 336.4L427.3 337.2L426.8 338.1L426.3 338.9L425.8 339.8L425.3 340.7L424.8 341.6L424.3 342.5L423.8 343.5L423.3 344.5L422.8 345.5L422.3 346.5L421.8 347.6L421.3 348.6L420.8 349.7L420.3 350.7L419.8 351.8L419.3 352.9L418.8 354.0L418.3 355.2L417.8 356.3L417.3 357.5L416.8 358.7L416.3 359.8L415.8 360.9L415.3 362.0L414.8 363.1L414.3 364.2L413.8 365.3L413.3 366.4L412.8 367.4L412.3 368.5L411.8 369.5L411.3 370.5L410.8 371.5L410.3 372.4L409.8 373.3L409.3 374.1L408.8 374.9L408.3 375.6L407.8 376.4L407.3 377.0L406.8 377.7L406.3 378.3L405.8 378.8L405.3 379.4L404.8 379.9L404.3 380.4L403.8 380.9L403.3 381.3L402.8 381.7L402.3 382.1L401.8 382.5L401.3 382.8L400.8 383.1L400.3 383.3L399.8 383.6L399.3 383.8L398.8 384.0L398.3 384.2L397.8 384.3L397.3 384.5L396.8 384.6L396.3 384.7L395.8 384.8L395.3 384.9L394.8 384.9L394.3 385.0L393.8 385.1L393.3 385.2L392.8 385.2L392.3 385.3L391.8 385.5L391.3 385.6L390.8 385.7L390.3 385.8L389.8 385.9L389.3 386.0L388.8 386.0L388.3 386.2L387.8 386.3L387.3 386.4L386.8 386.6L386.3 386.7L385.8 387.0L385.3 387.2L384.8 387.5L384.3 387.8L383.8 388.2L383.3 388.7L382.8 389.1L382.3 389.6L381.8 390.1L381.3 390.6L380.8 391.2L380.3 391.7L379.8 392.3L379.3 392.9L378.8 393.4L378.3 394.0L377.8 394.5L377.3 395.1L376.8 395.7L376.3 396.3L375.8 396.8L375.3 397.4L374.8 398.0L374.3 398.6L373.8 399.3L373.3 399.9L372.8 400.5L372.3 401.1L371.8 401.8L371.3 402.4L370.8 403.1L370.3 403.8L369.8 404.4L369.3 405.1L368.8 405.8L368.3 406.5L367.8 407.2L367.3 407.9L366.8 408.6L366.3 409.4L365.8 410.1L365.3 410.8L364.8 411.5L364.3 412.2L363.8 412.9L363.3 413.6L362.8 414.3L362.3 415.0L361.8 415.8L361.3 416.5L360.8 417.2L360.3 417.9L359.8 418.6L359.3 419.3L358.8 420.0L358.3 420.7L357.8 421.4L357.3 422.0L356.8 422.7L356.3 423.3L355.8 423.9L355.3 424.5L354.8 425.1L354.3 425.8L353.8 426.3L353.3 426.9L352.8 427.5L352.3 428.1L351.8 428.6L351.3 429.2L350.8 429.7L350.3 430.2L349.8 430.7L349.3 431.2L348.8 431.7L348.3 432.2L347.8 432.7L347.3 433.2L346.8 433.6L346.3 434.0L345.8 434.5L345.3 434.9L344.8 435.3L344.3 435.7L343.8 436.0L343.3 436.4L342.8 436.8L342.3 437.1L341.8 437.4L341.3 437.8L340.8 438.1L340.3 438.4L339.8 438.7L339.3 439.0L338.8 439.3L338.3 439.6L337.8 439.9L337.3 440.2L336.8 440.5L336.3 440.7L335.8 441.0L335.3 441.3L334.8 441.5L334.3 441.8L333.8 442.0L333.3 442.3L332.8 442.5L332.3 442.8L331.8 443.0L331.3 443.2L330.8 443.4L330.3 443.6L329.8 443.9L329.3 444.1L328.8 444.3L328.3 444.5L327.8 444.7L327.3 444.9L326.8 445.1L326.3 445.3L325.8 445.4L325.3 445.6L324.8 445.8L324.3 446.0L323.8 446.1L323.3 446.3L322.8 446.4L322.3 446.6L321.8 446.8L321.3 446.9L320.8 447.1L320.3 447.2L319.8 447.4L319.3 447.5L318.8 447.6L318.3 447.8L317.8 447.9L317.3 448.1L316.8 448.2L316.3 448.4L315.8 448.5L315.3 448.6L314.8 448.8L314.3 448.9L313.8 449.0L313.3 449.2L312.8 449.3L312.3 449.4L311.8 449.5L311.3 449.6L310.8 449.6L310.3 449.7L309.8 449.8L309.3 449.9L308.8 449.9L308.3 450.0L307.8 450.0L307.3 450.1L306.8 450.1L306.3 450.1L305.8 450.2L305.3 450.2L304.8 450.2L304.3 450.2L303.8 450.3L303.3 450.3L302.8 450.3L302.3 450.3L301.8 450.3L301.3 450.3L300.8 450.3L300.3 450.3L299.8 450.2L299.3 450.2L298.8 450.2L298.3 450.2L297.8 450.1L297.3 450.1L296.8 450.1L296.3 450.1L295.8 450.2L295.3 450.2L294.8 450.3L294.3 450.4L293.8 450.5L293.3 450.6L292.8 450.7L292.3 450.9L291.8 451.0L291.3 451.2L290.8 451.4L290.3 451.6L289.8 451.8L289.3 451.9L288.8 452.1L288.3 452.3L287.8 452.5L287.3 452.7L286.8 452.9L286.3 453.0L285.8 453.2L285.3 453.4L284.8 453.5L284.3 453.7L283.8 453.9L283.3 454.0L282.8 454.2L282.3 454.4L281.8 454.5L281.3 454.7L280.8 454.9L280.3 455.0L279.8 455.2L279.3 455.4L278.8 455.6L278.3 455.8L277.8 455.9L277.3 456.1L276.8 456.3L276.3 456.5L275.8 456.7L275.3 456.9L274.8 457.1L274.3 457.3L273.8 457.4L273.3 457.6L272.8 457.8L272.3 458.0L271.8 458.2L271.3 458.4L270.8 458.6L270.3 458.8L269.8 459.0L269.3 459.2L268.8 459.4L268.3 459.6L267.8 459.8L267.3 460.1L266.8 460.3L266.3 460.5L265.8 460.7L265.3 460.9L264.8 461.1L264.3 461.3L263.8 461.6L263.3 461.8L262.8 462.0L262.3 462.2L261.8 462.4L261.3 462.7L260.8 462.9L260.3 463.1L259.8 463.3L259.3 463.6L258.8 463.8L258.3 464.0L257.8 464.2L257.3 464.5L256.8 464.7L256.3 464.9L255.8 465.1L255.3 465.3L254.8 465.6L254.3 465.8L253.8 466.1L253.3 466.3L252.8 466.6L252.3 466.8L251.8 467.1L251.3 467.3L250.8 467.6L250.3 467.9L249.8 468.1L249.3 468.4L248.8 468.6L248.3 468.8L247.8 469.0L247.3 469.2L246.8 469.4L246.3 469.6L245.8 469.7L245.3 469.8L244.8 469.9L244.3 470.0L243.8 470.1L243.3 470.1L242.8 470.1L242.3 470.1L241.8 470.1L241.3 470.1L240.8 470.1L240.3 470.1L239.8 470.0L239.3 470.0L238.8 470.0L238.3 469.9L237.8 469.9L237.3 469.9L236.8 469.8L236.3 469.8L235.8 469.8L235.3 469.8L234.8 469.8L234.3 469.8L233.8 469.8L233.3 469.8L232.8 469.7L232.3 469.7L231.8 469.7L231.3 469.7L230.8 469.6L230.3 469.6L229.8 469.6L229.3 469.6L228.8 469.6L228.3 469.6L227.8 469.6L227.3 469.6L226.8 469.6L226.3 469.7L225.8 469.7L225.3 469.8L224.8 469.9L224.3 470.0L223.8 470.1L223.3 470.2L222.8 470.4L222.3 470.5L221.8 470.6L221.3 470.8L220.8 471.0L220.3 471.1L219.8 471.3L219.3 471.5L218.8 471.7L218.3 471.8L217.8 472.0L217.3 472.2L216.8 472.3L216.3 472.5L215.8 472.7L215.3 472.8L214.8 472.9L214.3 473.1L213.8 473.2L213.3 473.4L212.8 473.5L212.3 473.7L211.8 473.8L211.3 473.9L210.8 474.1L210.3 474.2L209.8 474.4L209.3 474.5L208.8 474.6L208.3 474.7L207.8 474.9L207.3 475.0L206.8 475.1L206.3 475.2L205.8 475.2L205.3 475.3L204.8 475.4L204.3 475.4L203.8 475.5L203.3 475.5L202.8 475.5L202.3 475.5L201.8 475.5L201.3 475.5L200.8 475.4L200.3 475.4L199.8 475.3L199.3 475.2L198.8 475.1L198.3 474.9L197.8 474.8L197.3 474.7L196.8 474.5L196.3 474.3L195.8 474.2L195.3 474.0L194.8 473.8L194.3 473.7L193.8 473.5L193.3 473.3L192.8 473.6L192.3 473.9L191.8 474.2L191.3 474.6L190.8 474.9L190.3 475.2L189.8 475.6L189.3 476.0L188.8 476.3L188.3 476.7L187.8 477.2L187.3 477.6L186.8 478.0L186.3 478.5L185.8 479.0L185.3 479.4L184.8 479.9L184.3 480.4L183.8 480.9L183.3 481.4L182.8 481.8L182.3 482.3L181.8 482.8L181.3 483.2L180.8 483.6L180.3 484.0L179.8 484.4L179.3 484.8L178.8 485.2L178.3 485.6L177.8 486.0L177.3 486.4L176.8 486.8L176.3 487.1L175.8 487.5L175.3 487.8L174.8 488.2L174.3 488.5L173.8 488.7L173.3 489.0L172.8 489.2L172.3 489.4L171.8 489.5L171.3 489.6L170.8 489.7L170.3 489.7L169.8 489.8L169.3 489.7L168.8 489.7L168.3 489.6L167.8 489.5L167.3 489.3L166.8 489.2L166.3 489.0L165.8 488.9L165.3 488.7L164.8 488.5L164.3 488.3L163.8 488.2L163.3 488.0L162.8 487.8L162.3 487.7L161.8 487.5L161.3 487.3L160.8 487.1L160.3 486.8L159.8 486.6L159.3 486.3L158.8 486.1L158.3 485.8L157.8 485.6L157.3 485.3L156.8 485.1L156.3 484.8L155.8 484.6L155.3 484.4L154.8 484.2L154.3 484.0L153.8 483.8L153.3 483.6L152.8 483.4L152.3 483.3L151.8 483.1L151.3 483.0L150.8 482.9L150.3 482.8L149.8 482.8L149.3 482.7L148.8 482.7L148.3 482.7L147.8 482.7L147.3 482.7L146.8 482.7L146.3 482.7L145.8 482.8L145.3 482.8L144.8 482.9L144.3 483.0L143.8 483.0L143.3 483.1L142.8 483.2L142.3 483.2L141.8 483.3L141.3 483.4L140.8 483.5L140.3 483.5L139.8 483.6L139.3 483.7L138.8 483.8L138.3 483.8L137.8 483.9L137.3 483.9L136.8 484.0L136.3 484.0L135.8 484.1L135.3 484.1L134.8 484.1L134.3 484.1L133.8 484.1L133.3 484.1L132.8 484.1L132.3 484.1L131.8 484.1L131.3 484.1L130.8 484.1L130.3 484.1L129.8 484.1L129.3 484.1L128.8 484.1L128.3 484.1L127.8 484.1L127.3 484.0L126.8 484.0L126.3 484.0L125.8 484.0L125.3 484.0L124.8 484.0L124.3 484.0L123.8 484.0L123.3 484.0L122.8 484.0L122.3 484.0L121.8 484.0L121.3 484.0L120.8 484.0L120.3 484.0L119.8 484.0L119.3 484.0L118.8 484.0L118.3 484.1L117.8 484.1L117.3 484.1L116.8 484.2L116.3 484.2L115.8 484.3L115.3 484.3L114.8 484.4L114.3 484.5L113.8 484.6L113.3 484.6L112.8 484.7L112.3 484.8L111.8 484.9L111.3 485.0L110.8 485.1L110.3 485.2L109.8 485.3L109.3 485.4L108.8 485.5L108.3 485.6L107.8 485.7L107.3 485.7L106.8 485.8L106.3 485.9L105.8 486.0L105.3 486.1L104.8 486.2L104.3 486.3L103.8 486.3L103.3 486.4L102.8 486.5L102.3 486.5L101.8 486.5L101.3 486.6L100.8 486.6L100.3 486.6L99.8 486.6L99.3 486.5L98.8 486.5L98.3 486.4L97.8 486.3L97.3 486.2L96.8 486.1L96.3 485.9L95.8 485.8L95.3 485.6L94.8 485.4L94.3 485.2L93.8 485.0L93.3 484.7L92.8 484.5L92.3 484.2L91.8 484.0L91.3 483.7L90.8 483.5L90.3 483.3Z" fill="#e0e0e0"/>
<g id="logo">
<g filter="url(#bl3)" fill="#c4c4c4">
<rect x="186" y="58" width="17" height="7" opacity="0.55"/>
<rect x="119" y="122" width="9" height="20" opacity="0.6"/>
<rect x="261" y="127" width="8" height="11" opacity="0.3"/>
<rect x="187" y="199" width="16" height="5" opacity="0.35"/>
</g>
<circle cx="194.3" cy="132.8" r="66.9" fill="#c3c1c1"/>
<circle cx="194.3" cy="132.8" r="64.6" fill="#dff1f6"/>
<circle cx="194.3" cy="132.8" r="63.8" fill="url(#lg)"/>
<circle cx="194.3" cy="132.8" r="63.8" fill="url(#lg2)"/>
<g clip-path="url(#lc)">
<g filter="url(#bl)">
<path d="M194 66 L176 150 L198 150 L205 66Z" fill="#e4f8f6" opacity="0.40"/>
<path d="M207 66 L214 140 L228 135 L216 66Z" fill="#c8eef2" opacity="0.22"/>
<path d="M152 84 L130 130 L150 150 L188 104Z" fill="#b8ecec" opacity="0.30"/>
<path d="M240 84 L262 120 L262 180 L236 200 L250 150Z" fill="#1c3fa0" opacity="0.40"/>
<path d="M135 168 Q195 188 255 164 L250 200 L140 200Z" fill="#2a5cb8" opacity="0.35"/>
<path d="M140 150 Q160 160 180 150 L170 172 L145 168Z" fill="#7fb4d8" opacity="0.35"/>
<ellipse cx="160" cy="168" rx="22" ry="13" fill="#6aa6da" opacity="0.35"/>
<ellipse cx="188" cy="191" rx="34" ry="4.5" fill="#3f8f88" opacity="0.8"/>
<ellipse cx="198" cy="191.5" rx="10" ry="1.8" fill="#a8dcd4" opacity="0.8"/>
</g>
<g filter="url(#bl2)">
<path d="M171 158 Q180 153 191 153 L196 151 L198 153.5 Q208 155 214 159 Q217 156 222 155 Q219 160 220 163 Q222 166 225 168 Q219 167 215 163 Q207 167 197 167 Q184 166 171 158Z" fill="#4f7f9e"/>
<path d="M172 157.5 Q181 153 191 153 L196 151 L198 153.5 Q207 155 213 158" fill="none" stroke="#bfe0e6" stroke-width="1.3"/>
<path d="M232 171 Q238 170 242 174 Q236 176 232 171Z" fill="#3a5f88"/>
</g>
</g>
<text x="196" y="143.2" font-size="26.4" text-anchor="middle" textLength="110" lengthAdjust="spacingAndGlyphs" filter="url(#bl)" opacity="0.95" transform="translate(0.9 1.4)" style="fill:#143c84;stroke:#143c84;stroke-width:2">J-SCOPE</text>
<text x="196" y="143.2" font-size="26.4" text-anchor="middle" textLength="110" lengthAdjust="spacingAndGlyphs" style="fill:#fff;stroke:#fff;stroke-width:1.3;stroke-linejoin:round">J-SCOPE</text>
</g>

<path d="M90.4 483.3C92.0 483.9 95.5 486.5 100.0 486.6C104.5 486.7 111.8 484.5 117.6 484.1C123.4 483.7 129.7 484.3 135.1 484.1C140.5 483.9 145.6 482.2 150.2 482.8C154.8 483.4 159.1 486.7 162.7 487.8C166.2 488.9 168.6 490.2 171.5 489.6C174.4 489.0 177.1 486.5 180.2 484.1C183.3 481.7 186.0 478.2 190.2 475.3C194.4 472.4 200.3 469.3 205.3 466.5C210.3 463.7 217.1 460.0 220.3 458.3C223.6 456.6 222.7 456.8 224.8 456.2C226.9 455.6 230.3 455.4 233.0 454.8C235.7 454.2 238.4 453.4 241.2 452.7C243.9 452.0 246.8 451.6 249.5 450.7C252.2 449.8 254.2 449.5 257.7 447.3C261.2 445.1 267.5 440.8 270.4 437.5C273.3 434.2 273.5 431.4 275.2 427.7C276.9 424.0 278.9 419.2 280.7 415.3C282.5 411.4 284.6 407.8 286.2 404.4C287.8 401.0 288.9 397.8 290.3 394.8C291.7 391.8 292.6 390.2 294.4 386.6C296.1 383.0 298.7 376.9 300.8 373.1C302.9 369.3 304.8 367.3 307.0 363.9C309.2 360.5 311.8 356.0 314.2 352.6C316.6 349.2 318.8 345.8 321.4 343.4C324.0 341.0 327.6 339.2 329.7 338.2C331.8 337.2 332.4 337.4 333.8 337.5C335.2 337.6 336.1 337.8 337.9 339.0C339.7 340.2 342.7 342.3 344.8 344.8C346.9 347.3 348.4 351.0 350.5 354.0C352.6 357.0 355.3 360.3 357.4 362.9C359.5 365.5 361.1 367.9 362.9 369.7C364.7 371.5 366.8 373.4 368.4 373.8C370.0 374.2 371.1 373.4 372.5 371.8C373.9 370.2 375.2 367.3 376.6 364.2C378.0 361.1 379.3 356.9 380.7 353.3C382.1 349.7 383.4 346.0 384.8 342.3C386.2 338.6 386.7 336.0 388.9 331.4C391.1 326.8 394.7 318.9 398.2 314.7C401.7 310.5 407.2 308.7 410.0 306.2C412.8 303.7 412.6 302.7 414.7 299.5C416.8 296.3 420.2 291.0 422.9 287.1C425.6 283.2 428.4 279.4 431.1 276.2C433.8 273.0 436.7 269.7 439.3 267.9C441.9 266.1 444.5 265.2 446.8 265.2C449.1 265.2 451.1 266.3 453.0 267.9C454.9 269.5 456.7 272.3 458.5 274.8C460.3 277.3 462.2 280.3 464.0 283.0C465.8 285.7 467.7 288.9 469.5 291.2C471.3 293.5 473.1 295.4 474.9 296.7C476.7 298.0 478.6 299.1 480.4 299.2C482.2 299.3 483.8 299.0 485.9 297.4C488.0 295.8 490.4 293.9 493.0 289.5C495.6 285.1 499.0 276.6 501.6 270.8C504.2 265.0 506.1 259.9 508.4 254.5C510.6 249.1 512.8 243.9 515.1 238.2C517.4 232.4 520.0 225.6 522.3 220.0C524.6 214.4 526.9 209.1 528.9 204.4C530.9 199.8 532.4 195.2 534.0 192.1C535.6 188.9 537.0 187.0 538.6 185.5C540.2 184.0 541.7 183.7 543.4 183.2C545.1 182.7 547.1 183.1 548.9 182.5C550.7 181.9 552.3 181.3 554.4 179.7C556.5 178.1 559.2 174.8 561.2 172.9C563.2 171.0 565.1 169.1 566.7 168.1C568.3 167.1 569.4 166.9 570.8 167.1C572.2 167.3 573.3 167.6 574.9 169.5C576.5 171.4 578.6 174.9 580.4 178.4C582.2 181.9 584.1 186.6 585.9 190.7C587.7 194.8 589.6 199.6 591.4 203.0C593.2 206.4 594.9 209.2 596.8 211.2C598.7 213.1 601.2 214.6 603.0 214.7C604.8 214.8 606.4 212.9 607.8 211.9C609.2 210.9 610.0 211.0 611.5 208.9C613.0 206.8 615.0 202.3 616.6 199.6C618.2 196.8 619.4 194.2 621.3 192.4C623.1 190.7 625.6 189.2 627.7 189.1C629.8 189.0 632.0 190.6 634.1 192.0C636.2 193.4 638.7 196.0 640.5 197.3C642.3 198.7 643.0 200.9 644.9 200.1C646.8 199.3 649.4 196.2 651.9 192.6C654.4 189.0 657.0 180.8 660.0 178.6C663.0 176.4 666.7 179.3 670.0 179.3C673.3 179.3 676.7 179.8 680.0 178.6C683.3 177.4 687.1 174.3 689.9 172.4C692.7 170.5 694.5 168.4 696.8 167.1C699.1 165.8 701.6 165.3 703.7 164.8C705.8 164.3 707.4 163.9 709.2 164.1C711.0 164.3 712.9 164.7 714.7 166.2C716.5 167.7 718.3 170.5 720.1 173.3C721.9 176.1 723.8 179.7 725.6 182.9C727.4 186.1 729.4 189.9 731.1 192.5C732.8 195.1 734.5 197.3 735.9 198.6C737.3 199.9 738.0 200.6 739.3 200.4C740.5 200.2 742.0 199.5 743.4 197.3C744.8 195.1 746.1 190.8 747.5 187.0C748.9 183.2 750.2 178.8 751.6 174.7C753.0 170.6 754.4 166.0 755.8 162.3C757.2 158.6 757.6 157.0 759.9 152.7C762.2 148.3 766.9 139.9 769.8 136.2C772.7 132.5 774.7 131.8 777.2 130.5C779.7 129.2 781.8 128.7 784.7 128.7C787.6 128.7 791.6 129.1 794.7 130.5C797.8 131.9 800.5 133.8 803.4 137.4C806.3 141.1 809.5 146.6 812.2 152.4C814.9 158.2 817.1 165.8 819.6 172.4C822.1 179.1 824.6 186.7 827.1 192.3C829.6 197.9 832.1 202.5 834.6 206.0C837.1 209.5 839.2 211.6 842.1 213.5C845.0 215.4 849.2 216.4 852.1 217.3C855.0 218.2 857.3 218.6 859.6 219.0C861.9 219.4 864.7 219.7 865.7 219.8" fill="none" stroke="#0000ff" stroke-width="5.3" stroke-linejoin="round" stroke-linecap="square"/>
<path d="M90.4 450.2C92.6 449.9 99.3 447.6 103.8 448.2C108.3 448.8 113.2 451.6 117.6 454.0C122.0 456.4 125.9 460.3 130.1 462.8C134.3 465.3 139.5 467.8 142.6 469.0C145.7 470.2 146.4 470.2 148.9 469.8C151.4 469.4 154.8 467.6 157.7 466.5C160.6 465.4 162.7 463.1 166.4 463.3C170.2 463.5 176.2 466.9 180.2 467.8C184.2 468.8 186.8 469.3 190.2 469.0C193.5 468.7 197.0 467.2 200.3 466.0C203.7 464.8 207.0 463.3 210.3 461.5C213.6 459.7 217.0 457.2 220.3 455.3C223.6 453.4 227.0 451.5 230.3 450.2C233.7 448.9 236.6 448.2 240.4 447.7C244.2 447.2 249.6 447.8 252.9 447.2C256.2 446.6 258.6 445.3 260.4 444.0C262.2 442.7 262.1 442.5 263.6 439.3C265.2 436.1 267.8 429.3 269.7 424.9C271.6 420.4 273.4 416.2 275.2 412.6C277.0 409.0 278.9 405.5 280.7 403.0C282.5 400.5 284.4 399.0 286.2 397.5C288.0 396.0 289.8 395.4 291.6 394.1C293.4 392.9 295.5 391.7 297.1 390.0C298.7 388.3 299.8 386.2 301.2 383.8C302.6 381.4 303.9 378.1 305.3 375.6C306.7 373.1 308.1 370.7 309.5 368.8C310.9 366.9 312.0 365.1 313.6 364.0C315.2 362.9 317.2 362.3 319.0 361.9C320.8 361.5 322.9 362.1 324.5 361.6C326.1 361.2 327.2 360.4 328.6 359.2C330.0 358.0 331.3 356.2 332.7 354.4C334.1 352.6 335.4 350.4 336.8 348.2C338.2 346.0 338.8 344.5 341.0 341.4C343.2 338.3 347.0 331.9 350.2 329.7C353.4 327.5 357.3 329.2 360.2 328.2C363.1 327.2 364.8 326.9 367.7 323.9C370.6 320.9 374.4 315.2 377.7 310.2C381.0 305.2 384.3 298.5 387.7 293.9C391.1 289.3 394.4 285.2 397.8 282.6C401.2 280.0 404.5 278.3 407.8 278.1C411.1 277.9 414.5 278.7 417.8 281.3C421.1 283.9 424.5 289.3 427.8 293.9C431.1 298.5 434.1 304.7 437.9 308.9C441.7 313.1 446.7 316.4 450.4 318.9C454.1 321.4 456.9 323.3 460.0 323.8C463.1 324.3 466.1 323.2 469.1 322.0C472.1 320.8 475.2 319.1 478.2 316.5C481.2 313.9 484.3 310.4 487.3 306.5C490.3 302.6 493.4 296.9 496.4 292.8C499.4 288.7 502.9 284.8 505.5 282.1C508.1 279.4 510.1 278.2 512.2 276.6C514.3 275.0 516.0 274.5 517.9 272.7C519.8 270.9 522.1 268.4 523.7 266.0C525.3 263.6 526.2 261.1 527.5 258.4C528.8 255.7 529.9 252.8 531.4 249.7C532.9 246.6 534.6 242.8 536.2 240.1C537.8 237.4 539.3 235.1 540.9 233.4C542.5 231.7 544.1 230.7 545.7 230.1C547.3 229.5 549.1 229.5 550.5 229.6C551.9 229.7 552.7 230.1 554.0 230.5C555.3 230.9 556.6 231.7 558.5 232.1C560.4 232.5 563.0 232.9 565.3 232.9C567.6 232.9 569.9 232.9 572.2 231.8C574.5 230.7 576.7 228.6 579.0 226.3C581.3 224.0 583.8 220.8 585.9 218.1C588.0 215.4 589.6 212.7 591.4 209.9C593.2 207.2 595.0 204.1 596.8 201.6C598.6 199.1 600.5 196.4 602.3 194.8C604.1 193.2 606.2 192.6 607.8 192.1C609.4 191.6 609.9 191.2 611.8 191.9C613.7 192.6 616.4 194.5 619.3 196.4C622.2 198.3 626.4 201.7 629.3 203.1C632.2 204.5 633.9 205.1 636.8 204.6C639.7 204.1 643.0 203.6 646.9 200.1C650.8 196.6 656.6 187.6 660.0 183.6C663.4 179.6 665.0 177.6 667.5 176.1C670.0 174.6 672.1 174.5 675.0 174.4C677.9 174.3 681.5 175.4 684.9 175.4C688.3 175.4 692.8 174.4 695.5 174.7C698.2 175.0 699.0 176.2 701.0 177.4C703.0 178.7 705.5 180.8 707.8 182.2C710.1 183.6 712.4 185.0 714.7 185.9C717.0 186.8 719.0 187.2 721.5 187.7C724.0 188.2 727.0 188.7 729.7 189.0C732.4 189.3 735.4 189.9 737.9 189.7C740.4 189.5 742.7 188.8 744.8 187.7C746.9 186.6 748.5 184.5 750.3 182.9C752.1 181.3 754.0 179.4 755.8 178.1C757.6 176.8 759.6 175.8 761.2 175.3C762.8 174.8 763.7 174.8 765.3 175.3C766.9 175.8 768.7 176.9 770.8 178.1C772.9 179.3 775.4 181.3 777.7 182.6C780.0 183.9 782.2 184.7 784.5 185.9C786.8 187.1 789.1 188.1 791.4 189.7C793.7 191.2 796.2 193.1 798.2 195.2C800.2 197.3 801.4 198.8 803.7 202.1C806.0 205.4 809.6 210.2 812.2 214.8C814.9 219.4 817.1 224.7 819.6 229.7C822.1 234.7 824.6 240.9 827.1 244.7C829.6 248.4 832.5 250.9 834.6 252.2C836.7 253.5 837.5 253.9 839.6 252.7C841.7 251.4 844.6 248.1 847.1 244.7C849.6 241.3 852.5 235.2 854.6 232.2C856.7 229.2 857.8 227.6 859.6 226.5C861.5 225.4 864.7 225.7 865.7 225.5" fill="none" stroke="#ff0000" stroke-width="5.3" stroke-linejoin="round" stroke-linecap="square"/>
<path d="M115.8 450.2C117.3 450.0 121.5 449.4 125.1 449.2C128.7 449.0 133.8 448.8 137.6 449.2C141.4 449.6 143.9 450.3 147.7 451.5C151.5 452.7 156.0 454.6 160.2 456.5C164.4 458.4 168.5 460.6 172.7 462.8C176.9 465.0 181.0 467.8 185.2 469.8C189.4 471.8 194.5 473.9 197.8 474.8C201.2 475.7 202.4 475.6 205.3 475.3C208.2 475.0 212.0 473.7 215.3 472.8C218.6 471.9 222.0 470.3 225.3 469.8C228.6 469.3 232.0 469.8 235.3 469.8C238.7 469.8 242.1 470.6 245.4 469.8C248.8 469.1 251.7 467.0 255.4 465.3C259.1 463.6 264.1 461.4 267.9 459.8C271.7 458.2 275.1 456.9 278.2 455.8C281.3 454.7 283.6 453.9 286.4 453.0C289.1 452.1 291.9 450.8 294.7 450.3C297.4 449.9 300.2 450.4 302.9 450.3C305.6 450.2 308.4 450.1 311.1 449.6C313.8 449.1 316.6 448.3 319.3 447.5C322.0 446.7 324.8 445.9 327.5 444.8C330.2 443.7 333.1 442.5 335.8 441.0C338.6 439.5 341.5 437.8 344.0 435.9C346.5 434.0 348.5 432.1 350.8 429.7C353.1 427.3 355.4 424.5 357.7 421.5C360.0 418.5 362.2 415.1 364.5 411.9C366.8 408.7 369.1 405.3 371.4 402.3C373.7 399.3 376.0 396.6 378.2 394.1C380.4 391.6 382.6 388.9 384.8 387.5C387.0 386.1 389.3 386.1 391.6 385.5C393.9 384.9 396.4 384.9 398.5 384.1C400.6 383.3 402.2 382.4 404.0 380.7C405.8 379.0 407.7 376.8 409.5 373.8C411.3 370.8 413.1 366.8 414.9 362.9C416.7 359.0 418.6 354.4 420.4 350.5C422.2 346.6 424.1 342.8 425.9 339.6C427.7 336.4 429.0 334.4 431.4 331.4C433.8 328.4 437.2 324.5 440.4 321.4C443.6 318.3 447.1 316.0 450.4 312.7C453.7 309.4 457.7 303.9 460.4 301.4C463.1 298.9 464.3 297.5 466.4 297.7C468.5 297.9 470.8 299.8 472.8 302.8C474.8 305.8 476.4 311.7 478.2 315.6C480.0 319.6 481.9 323.3 483.7 326.5C485.5 329.7 487.4 332.9 489.2 334.7C491.0 336.5 492.5 337.2 494.6 337.5C496.7 337.8 498.9 337.2 501.9 336.6C504.9 336.0 509.4 335.2 512.8 333.8C516.1 332.4 519.3 330.7 522.0 328.4C524.7 326.1 526.8 323.4 529.2 320.2C531.6 317.0 534.1 312.1 536.5 309.2C538.9 306.3 541.4 304.2 543.8 302.8C546.2 301.4 548.7 301.1 551.1 300.7C553.5 300.2 556.1 300.8 558.4 300.1C560.7 299.4 562.2 299.8 564.8 296.5C567.4 293.2 571.0 286.3 574.2 280.3C577.4 274.3 580.9 267.0 584.2 260.3C587.6 253.6 591.4 245.4 594.3 240.2C597.2 235.0 599.3 231.5 601.8 229.0C604.3 226.5 606.8 225.7 609.3 225.2C611.8 224.7 613.9 224.8 616.8 225.9C619.7 227.0 623.9 230.2 626.8 231.5C629.7 232.8 631.8 234.6 634.3 234.0C636.8 233.4 639.0 231.9 641.9 227.7C644.8 223.5 648.9 213.5 651.9 208.9C654.9 204.3 657.4 201.0 660.0 200.3C662.6 199.6 664.8 203.4 667.5 204.8C670.2 206.2 673.3 209.3 676.2 208.5C679.1 207.7 681.9 202.9 684.9 199.8C687.9 196.7 691.6 191.8 694.1 189.7C696.6 187.6 697.8 187.6 699.6 187.3C701.4 187.0 703.3 187.7 705.1 188.1C706.9 188.5 708.5 189.3 710.5 189.5C712.5 189.7 715.3 189.6 717.4 189.5C719.5 189.4 721.3 188.5 722.9 189.0C724.5 189.5 725.6 190.6 727.0 192.5C728.4 194.4 729.7 198.0 731.1 200.7C732.5 203.4 733.7 206.6 735.2 208.9C736.7 211.2 738.3 213.2 740.0 214.4C741.7 215.6 743.8 216.0 745.5 216.0C747.2 216.0 748.8 215.5 750.3 214.4C751.8 213.3 753.0 211.2 754.4 209.6C755.8 208.0 756.9 206.0 758.5 204.8C760.1 203.6 762.2 202.5 764.0 202.3C765.8 202.1 767.5 203.1 769.5 203.7C771.5 204.3 774.0 205.5 776.3 205.9C778.6 206.3 780.9 206.1 783.2 205.9C785.5 205.7 787.7 205.0 790.0 204.8C792.3 204.6 794.5 204.8 796.8 204.8C799.1 204.9 801.9 205.3 803.7 205.1C805.5 204.9 806.4 204.3 807.8 203.4C809.2 202.5 810.2 202.1 812.2 199.8C814.2 197.5 817.1 192.8 819.6 189.8C822.1 186.8 824.8 183.5 827.1 181.8C829.4 180.1 831.3 179.3 833.4 179.8C835.5 180.3 837.3 181.1 839.6 184.8C841.9 188.6 844.6 195.2 847.1 202.3C849.6 209.4 852.3 218.9 854.6 227.2C856.9 235.5 858.9 244.6 860.8 252.2C862.6 259.8 864.9 269.2 865.7 272.6" fill="none" stroke="#000000" stroke-width="5.3" stroke-linejoin="round" stroke-linecap="square"/>
<path d="M90.4 491.6C92.9 491.7 100.1 491.7 105.1 492.1C110.0 492.5 114.7 493.7 120.1 493.8C125.5 493.9 132.2 492.5 137.6 492.8C143.0 493.1 147.7 494.9 152.7 495.9C157.7 496.9 163.1 498.3 167.7 498.6C172.3 498.9 175.6 498.4 180.2 497.9C184.8 497.3 190.3 496.1 195.3 495.3C200.3 494.5 205.3 494.3 210.3 493.3C215.3 492.3 220.3 490.4 225.3 489.1C230.3 487.8 235.4 486.3 240.4 485.3C245.4 484.3 250.5 484.6 255.4 483.3C260.3 482.0 266.2 479.6 270.0 477.7C273.8 475.8 275.5 473.7 278.2 472.2C280.9 470.7 283.6 469.7 286.4 468.8C289.1 467.9 291.9 467.5 294.7 467.0C297.4 466.5 300.2 466.5 302.9 465.6C305.6 464.8 308.4 463.5 311.1 461.9C313.8 460.3 316.6 457.9 319.3 455.8C322.0 453.8 324.8 451.4 327.5 449.6C330.2 447.8 333.1 446.1 335.8 444.8C338.6 443.5 341.3 442.8 344.0 441.8C346.7 440.8 349.5 439.8 352.2 438.6C354.9 437.4 357.7 436.1 360.4 434.5C363.1 432.9 365.9 430.9 368.6 429.0C371.3 427.1 374.1 424.7 376.8 422.9C379.6 421.1 382.9 419.2 385.1 418.1C387.3 417.0 388.0 416.9 390.0 416.0C392.0 415.1 394.8 414.0 397.1 412.9C399.4 411.8 401.7 411.0 404.0 409.5C406.3 408.0 408.5 406.3 410.8 404.0C413.1 401.7 415.2 399.2 417.7 395.8C420.2 392.4 423.2 387.3 425.9 383.4C428.6 379.5 431.4 375.7 434.1 372.5C436.8 369.3 439.7 366.7 442.3 364.2C444.9 361.7 447.8 359.1 450.0 357.4C452.2 355.7 453.7 355.1 455.4 354.0C457.1 352.9 457.7 352.2 460.0 351.1C462.3 350.0 466.1 348.4 469.1 347.5C472.1 346.6 475.2 346.3 478.2 345.7C481.2 345.1 484.3 344.9 487.3 343.8C490.3 342.7 493.3 341.9 496.4 339.3C499.4 336.7 502.6 332.0 505.6 328.4C508.7 324.8 511.7 320.9 514.7 317.4C517.7 313.9 520.8 310.1 523.8 307.4C526.8 304.7 529.9 302.4 532.9 301.0C535.9 299.6 539.0 299.2 542.0 298.8C545.0 298.4 548.1 299.0 551.1 298.3C554.1 297.6 557.2 296.4 560.2 294.6C563.2 292.8 566.2 289.7 569.3 287.4C572.3 285.1 575.5 282.6 578.5 281.0C581.5 279.4 584.6 278.4 587.6 277.7C590.6 277.0 593.7 277.1 596.7 276.8C599.7 276.5 601.9 276.3 605.8 276.1C609.7 275.9 615.7 275.1 620.0 275.5C624.3 275.9 628.1 277.6 631.8 278.3C635.4 279.0 638.5 280.1 641.9 279.8C645.2 279.5 648.9 278.1 651.9 276.6C654.9 275.1 657.0 272.1 660.0 270.9C663.0 269.7 666.7 269.6 670.0 269.6C673.3 269.6 676.7 271.3 680.0 270.9C683.3 270.5 686.6 269.0 689.9 267.1C693.2 265.2 696.6 262.0 699.9 259.7C703.2 257.4 706.6 254.9 709.9 253.4C713.2 251.9 716.6 251.2 719.9 250.4C723.2 249.6 726.5 249.4 729.8 248.4C733.1 247.4 736.5 246.1 739.8 244.7C743.1 243.3 747.1 241.1 749.8 240.2C752.5 239.3 753.9 238.9 756.0 239.2C758.1 239.5 759.6 240.2 762.3 242.2C765.0 244.1 768.9 248.5 772.2 250.9C775.5 253.3 779.3 255.6 782.2 256.7C785.1 257.8 786.8 257.8 789.7 257.2C792.6 256.6 796.4 254.7 799.7 253.4C803.0 252.1 806.4 249.7 809.7 249.2C813.0 248.7 815.9 249.6 819.6 250.2C823.3 250.8 828.4 252.8 832.1 252.7C835.9 252.6 838.8 250.9 842.1 249.7C845.4 248.4 849.4 245.9 852.1 245.2C854.8 244.5 856.0 245.1 858.3 245.7C860.6 246.3 864.5 248.4 865.7 248.9" fill="none" stroke="#00ff00" stroke-width="5.3" stroke-linejoin="round" stroke-linecap="square"/>
<g stroke="#666666" stroke-width="1.5" fill="none">
<rect x="90.3" y="38.0" width="774.6" height="612.0"/>
<path d="M90.3 650.0v8 M90.3 38.0v-8"/>
<path d="M192.7 650.0v8 M192.7 38.0v-8"/>
<path d="M295.1 650.0v8 M295.1 38.0v-8"/>
<path d="M397.5 650.0v8 M397.5 38.0v-8"/>
<path d="M499.9 650.0v8 M499.9 38.0v-8"/>
<path d="M602.2 650.0v8 M602.2 38.0v-8"/>
<path d="M704.6 650.0v8 M704.6 38.0v-8"/>
<path d="M807.0 650.0v8 M807.0 38.0v-8"/>
<path d="M90.3 650.0h-8 M864.9 650.0h8"/>
<path d="M90.3 582.0h-8 M864.9 582.0h8"/>
<path d="M90.3 514.0h-8 M864.9 514.0h8"/>
<path d="M90.3 446.0h-8 M864.9 446.0h8"/>
<path d="M90.3 378.0h-8 M864.9 378.0h8"/>
<path d="M90.3 310.0h-8 M864.9 310.0h8"/>
<path d="M90.3 242.0h-8 M864.9 242.0h8"/>
<path d="M90.3 174.0h-8 M864.9 174.0h8"/>
<path d="M90.3 106.0h-8 M864.9 106.0h8"/>
<path d="M90.3 38.0h-8 M864.9 38.0h8"/>
</g>
<g opacity="0.999">
<text transform="translate(90.2 689.2) scale(1.030 1)" font-size="24.3" text-anchor="middle">Feb</text>
<text transform="translate(192.6 689.2) scale(1.030 1)" font-size="24.3" text-anchor="middle">Mar</text>
<text transform="translate(295.0 689.2) scale(1.030 1)" font-size="24.3" text-anchor="middle">Apr</text>
<text transform="translate(397.4 689.2) scale(1.030 1)" font-size="24.3" text-anchor="middle">May</text>
<text transform="translate(499.8 689.2) scale(1.030 1)" font-size="24.3" text-anchor="middle">Jun</text>
<text transform="translate(602.1 689.2) scale(1.030 1)" font-size="24.3" text-anchor="middle">Jul</text>
<text transform="translate(704.5 689.2) scale(1.030 1)" font-size="24.3" text-anchor="middle">Aug</text>
<text transform="translate(806.9 689.2) scale(1.030 1)" font-size="24.3" text-anchor="middle">Sep</text>
<text transform="translate(73.3 658.0) scale(1.027 1)" font-size="24.3" text-anchor="end">4</text>
<text transform="translate(73.3 590.0) scale(1.027 1)" font-size="24.3" text-anchor="end">6</text>
<text transform="translate(73.3 522.0) scale(1.027 1)" font-size="24.3" text-anchor="end">8</text>
<text transform="translate(73.3 454.0) scale(1.027 1)" font-size="24.3" text-anchor="end">10</text>
<text transform="translate(73.3 386.0) scale(1.027 1)" font-size="24.3" text-anchor="end">12</text>
<text transform="translate(73.3 318.0) scale(1.027 1)" font-size="24.3" text-anchor="end">14</text>
<text transform="translate(73.3 250.0) scale(1.027 1)" font-size="24.3" text-anchor="end">16</text>
<text transform="translate(73.3 182.0) scale(1.027 1)" font-size="24.3" text-anchor="end">18</text>
<text transform="translate(73.3 114.0) scale(1.027 1)" font-size="24.3" text-anchor="end">20</text>
<text transform="translate(73.3 46.0) scale(1.027 1)" font-size="24.3" text-anchor="end">22</text>
<text transform="translate(478.2 26.5) scale(1.008 1)" font-size="27.3" text-anchor="middle" font-weight="bold" style="fill:#000">Forecast at Chaba, 2016</text>
<text transform="translate(476.9 724.2) scale(1.076 1)" font-size="27.5" text-anchor="middle">Year 2016</text>
<text transform="translate(30.5 344.6) rotate(-90)" font-size="26.4" text-anchor="middle">Sea Surface Temperature (<tspan font-size="21.5" dy="-12.6">o</tspan><tspan dy="12.6">C)</tspan></text>
</g>
<rect x="642.5" y="513.5" width="205.5" height="119.5" fill="#fff" stroke="#4a4a4a" stroke-width="1.1"/>
<path d="M652.4 530.4H704.9" stroke="#0000ff" stroke-width="5.3"/>
<text x="710.3" y="538.4" font-size="22" style="fill:#000" opacity="0.999">Run 1</text>
<path d="M652.4 558.9H704.9" stroke="#ff0000" stroke-width="5.3"/>
<text x="710.3" y="566.9" font-size="22" style="fill:#000" opacity="0.999">Run 2</text>
<path d="M652.4 587.3H704.9" stroke="#000000" stroke-width="5.3"/>
<text x="710.3" y="595.3" font-size="22" style="fill:#000" opacity="0.999">Run 3</text>
<path d="M652.4 615.8H704.9" stroke="#00ff00" stroke-width="5.3"/>
<text x="710.3" y="623.8" font-size="22" style="fill:#000" opacity="0.999">Climatology</text>
</svg></body></html>
